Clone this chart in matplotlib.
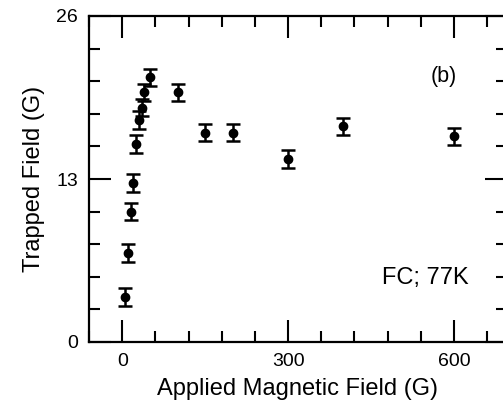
import numpy as np
import matplotlib
matplotlib.use('Agg')
import matplotlib.pyplot as plt
from matplotlib.ticker import MultipleLocator

plt.rcParams['font.family'] = ['Liberation Sans', 'DejaVu Sans']

# applied field (G) and trapped field (G)
applied = [5, 10, 15, 20, 25, 30, 35, 40, 50, 100, 150, 200, 300, 400, 600]
trapped = [3.6, 7.1, 10.4, 12.7, 15.8, 17.7, 18.7, 19.9, 21.1, 19.9, 16.7, 16.7, 14.6, 17.2, 16.4]
err = [0.7, 0.7, 0.7, 0.7, 0.7, 0.7, 0.7, 0.7, 0.7, 0.7, 0.7, 0.7, 0.7, 0.7, 0.7]

fig = plt.figure(figsize=(5.03, 4.0), dpi=100)
ax = fig.add_axes([0.177, 0.145, 0.830, 0.815])

ax.errorbar(applied, trapped, yerr=err, fmt='o', color='black', ms=6,
            ecolor='black', elinewidth=1.8, capsize=5, capthick=1.8)

ax.set_xlim(-60, 695)
ax.set_ylim(0, 26)
ax.xaxis.set_major_locator(MultipleLocator(300))
ax.xaxis.set_minor_locator(MultipleLocator(60))
ax.yaxis.set_major_locator(MultipleLocator(13))
ax.yaxis.set_minor_locator(MultipleLocator(2.6))

ax.tick_params(which='both', direction='in', top=True, right=True, width=1.5, labelsize=14)
ax.tick_params(which='major', length=16, pad=8)
ax.tick_params(which='minor', length=8)
for s in ax.spines.values():
    s.set_linewidth(1.6)

ax.set_xlabel('Applied Magnetic Field (G)', fontsize=17, labelpad=6)
ax.set_ylabel('Trapped Field (G)', fontsize=17, labelpad=8)

ax.text(582, 21.2, '(b)', fontsize=15.5, ha='center', va='center')
ax.text(627, 5.1, 'FC; 77K', fontsize=17, ha='right', va='center')

fig.savefig('out.png', dpi=100)
